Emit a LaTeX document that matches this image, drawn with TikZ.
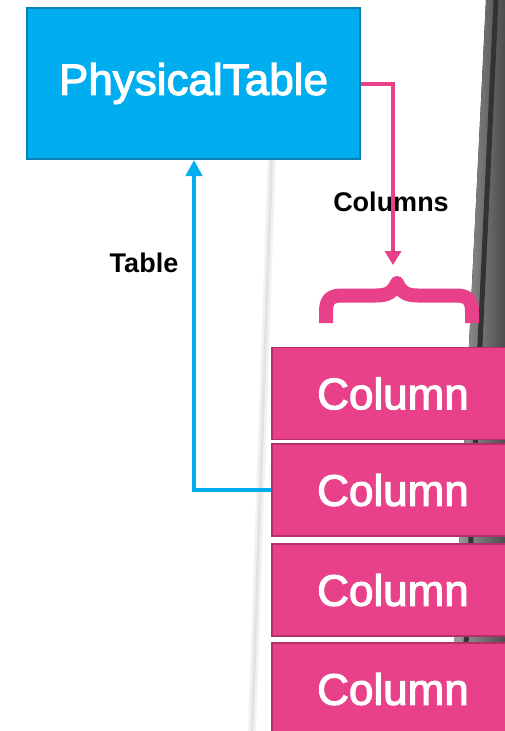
\documentclass[tikz,border=0pt]{standalone}
\usepackage{fontspec}
\setmainfont{Liberation Sans}
\newfontfamily\boxfont[FakeBold=2.6]{Liberation Sans}
\usetikzlibrary{arrows.meta}
\definecolor{tblue}{HTML}{00AEEF}
\definecolor{tblueb}{HTML}{0A80B5}
\definecolor{tpink}{HTML}{E8418A}
\definecolor{tpinkb}{HTML}{B3306B}
\tikzset{
  bigbox/.style={draw=tblueb, line width=2pt, fill=tblue, text=white, inner sep=0pt,
    font=\boxfont\fontsize{44}{50}\selectfont},
  colbox/.style={draw=tpinkb, line width=1.5pt, fill=tpink, text=white, inner sep=0pt,
    minimum width=242pt, minimum height=92pt, font=\boxfont\fontsize{44}{50}\selectfont},
  lbl/.style={font=\fontsize{27}{30}\selectfont\bfseries, text=black, inner sep=0pt},
  bluearrow/.style={draw=tblue, line width=4pt, -{Triangle[length=16pt,width=16pt]}},
  pinkarrow/.style={draw=tpink, line width=4pt, -{Triangle[length=14pt,width=16pt]}},
  bracestyle/.style={draw=tpink, line width=14pt, line join=round},
}
\begin{document}
\begin{tikzpicture}[x=1pt,y=-1pt]
\useasboundingbox (0,0) rectangle (505,731);
\fill[white] (0,0) rectangle (505,731);
% background page edges
\draw[black!5, line width=8pt] (272,150) -- (252,731);
\draw[black!11, line width=3pt] (272,150) -- (252,731);
\fill[left color=black!35, right color=black!70] (486,0) -- (505,0) -- (505,731) -- (450,731) -- cycle;
\draw[black!80, line width=5pt] (496,0) -- (462,731);
% nodes
\node[bigbox, minimum width=333pt, minimum height=151pt] (pt) at (193.5,83.5) {PhysicalTable};
\node[colbox] (c1) at (393,393.5) {Column};
\node[colbox] (c2) at (393,490) {Column};
\node[colbox] (c3) at (393,590) {Column};
\node[colbox] (c4) at (393,689) {Column};
\node[lbl] (lcols) at (391,202) {Columns};
\node[lbl] (ltab) at (144,263) {Table};
% brace
\coordinate (btip) at (397,283);
\draw[bracestyle, line cap=butt] (326,323) -- (326,312) .. controls (326,300) and (330,295.5) .. (342,295.5)
  -- (376,295.5) .. controls (388,295.5) and (393,292) .. (btip)
  .. controls (401,292) and (406,295.5) .. (418,295.5) -- (456,295.5)
  .. controls (468,295.5) and (472,300) .. (472,312) -- (472,323);
\coordinate (ptip) at (393,265);
% connectors
\draw[pinkarrow] (pt.east |- 0,84) -| (ptip);
\draw[bluearrow] (c2.west) -| (pt.south -| 194,0);
\end{tikzpicture}
\end{document}
